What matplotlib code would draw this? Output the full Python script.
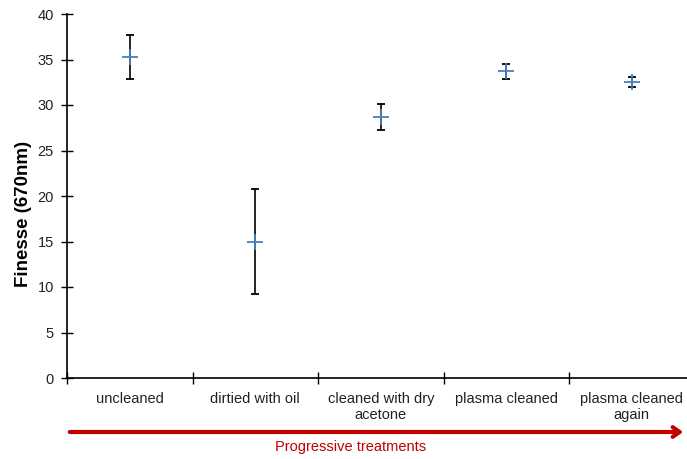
import matplotlib
matplotlib.use("Agg")
import matplotlib.pyplot as plt
import numpy as np

plt.rcParams['font.family'] = ['Liberation Sans', 'DejaVu Sans']

categories = ["uncleaned", "dirtied with oil", "cleaned with dry\nacetone",
              "plasma cleaned", "plasma cleaned\nagain"]
finesse = [35.3, 15.0, 28.7, 33.7, 32.5]
errors = [2.4, 5.8, 1.45, 0.85, 0.55]
yticks = [0, 5, 10, 15, 20, 25, 30, 35, 40]

W, H = 687, 459
fig = plt.figure(figsize=(W / 100, H / 100), dpi=100)
x0, x1 = 67, 694.5
y0, y1 = 378, 14
ax = fig.add_axes([x0 / W, (H - y0) / H, (x1 - x0) / W, (y0 - y1) / H])

xpos = np.arange(len(categories)) + 0.5
ax.errorbar(xpos, finesse, yerr=errors, fmt='none', ecolor='black',
            elinewidth=1.2, capsize=2.6, capthick=1.3, zorder=2)
ax.plot(xpos, finesse, linestyle='none', marker='+', markersize=12,
        markeredgewidth=1.3, color='#4a7ebb', zorder=3)

ax.set_xlim(0, len(categories))
ax.set_ylim(0, 40)
ax.set_yticks(yticks)
ax.set_xticks(np.arange(len(categories) + 1))
ax.set_xticklabels([])
ax.set_xticks(xpos, minor=True)
ax.set_xticklabels(categories, minor=True, fontsize=10.5, color='#222222')
ax.tick_params(axis='x', which='major', direction='inout', length=8, width=1)
ax.tick_params(axis='x', which='minor', length=0, pad=10)
ax.tick_params(axis='y', direction='inout', length=9, width=1, labelsize=10.5,
               labelcolor='#222222', pad=5)

for s in ['top', 'right']:
    ax.spines[s].set_visible(False)
for s in ['left', 'bottom']:
    ax.spines[s].set_linewidth(1.2)

ax.set_ylabel("Finesse (670nm)", fontsize=13.5, fontweight='bold')
ax.yaxis.set_label_coords(24 / W, 1 - 214 / H, transform=fig.transFigure)
ax.yaxis.label.set_va('center')

# progressive treatments arrow
ay = 1 - 432 / H
fig.patches.append(matplotlib.patches.FancyArrowPatch(
    (x0 / W, ay), (686 / W, ay), transform=fig.transFigure,
    arrowstyle='->,head_length=0.5,head_width=0.35', color='#c00000',
    linewidth=3, mutation_scale=10))
fig.text(351 / W, 1 - 447 / H, "Progressive treatments", color='#c00000',
         fontsize=10.5, ha='center', va='center')

fig.savefig("out.png", dpi=100)
